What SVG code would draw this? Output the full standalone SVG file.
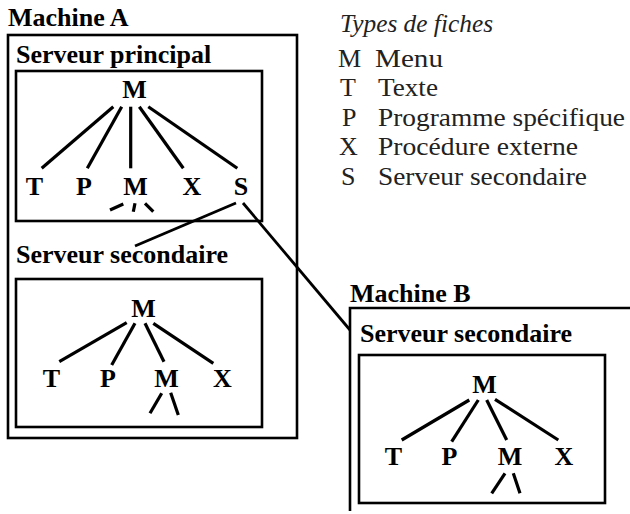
<svg xmlns="http://www.w3.org/2000/svg" width="630" height="514" viewBox="0 0 630 514">
<style>
.box{fill:none;stroke:#000;stroke-width:2.6}
.lbl{font-family:"Liberation Serif","Times New Roman",serif;font-weight:bold;font-size:26px;fill:#000}
.n{font-family:"Liberation Serif","Times New Roman",serif;font-weight:bold;font-size:26px;fill:#000;text-anchor:middle}
.leg{font-family:"Liberation Serif","Times New Roman",serif;font-size:26px;fill:#222}
.legt{font-family:"Liberation Serif","Times New Roman",serif;font-style:italic;font-size:26px;fill:#222}
.e{stroke:#000;stroke-width:3.2;stroke-linecap:butt;fill:none}
.c{stroke:#000;stroke-width:2.8;fill:none}
</style>
<rect width="630" height="514" fill="#fff"/>

<g id="machineA">
  <text class="lbl" x="8" y="26">Machine A</text>
  <rect class="box" x="8" y="35" width="289" height="403"/>
</g>
<g id="serveurPrincipal">
  <text class="lbl" x="16" y="63">Serveur principal</text>
  <rect class="box" x="16" y="71" width="246" height="150"/>
</g>
<g id="serveurSecondaireA">
  <text class="lbl" x="16" y="263">Serveur secondaire</text>
  <rect class="box" x="16" y="279" width="246" height="148"/>
</g>
<g id="machineB">
  <text class="lbl" x="350" y="302">Machine B</text>
  <path class="box" d="M350,511 V308 H632"/>
</g>
<g id="serveurSecondaireB">
  <text class="lbl" x="360" y="342">Serveur secondaire</text>
  <rect class="box" x="359" y="355" width="246" height="148"/>
</g>

<!-- tree 1 nodes -->
<g id="p-M"><text class="n" x="134.5" y="98">M</text></g>
<g id="p-T"><text class="n" x="34.5" y="195">T</text></g>
<g id="p-P"><text class="n" x="84" y="195">P</text></g>
<g id="p-M2"><text class="n" x="135.5" y="195">M</text></g>
<g id="p-X"><text class="n" x="192" y="195">X</text></g>
<g id="p-S"><text class="n" x="241" y="195">S</text></g>

<!-- tree 2 nodes -->
<g id="sa-M"><text class="n" x="143.5" y="317">M</text></g>
<g id="sa-T"><text class="n" x="51.5" y="387">T</text></g>
<g id="sa-P"><text class="n" x="108" y="387">P</text></g>
<g id="sa-M2"><text class="n" x="166.5" y="387">M</text></g>
<g id="sa-X"><text class="n" x="222.5" y="387">X</text></g>

<!-- tree B nodes -->
<g id="sb-M"><text class="n" x="484.5" y="393">M</text></g>
<g id="sb-T"><text class="n" x="393.5" y="465">T</text></g>
<g id="sb-P"><text class="n" x="449.5" y="465">P</text></g>
<g id="sb-M2"><text class="n" x="510" y="465">M</text></g>
<g id="sb-X"><text class="n" x="564" y="465">X</text></g>

<g id="connectors">
  <line class="e" x1="113.3" y1="106.7" x2="41.7" y2="168.3"/>
  <line class="e" x1="121.7" y1="106.7" x2="87.3" y2="168.3"/>
  <line class="e" x1="130.7" y1="106.7" x2="130.7" y2="168.3"/>
  <line class="e" x1="139.3" y1="106.7" x2="183.3" y2="168.3"/>
  <line class="e" x1="148.3" y1="106.7" x2="237.3" y2="168.3"/>
  <line class="e" x1="110" y1="210" x2="123.3" y2="204"/>
  <line class="e" x1="135" y1="203.3" x2="133.3" y2="211.7"/>
  <line class="e" x1="145" y1="203.3" x2="153.3" y2="211.7"/>

  <line class="e" x1="126.7" y1="322.7" x2="59.3" y2="361.7"/>
  <line class="e" x1="135" y1="323.3" x2="111.7" y2="365"/>
  <line class="e" x1="145" y1="323.3" x2="164" y2="361.7"/>
  <line class="e" x1="153.3" y1="323.3" x2="213.3" y2="363.3"/>
  <line class="e" x1="150" y1="413.3" x2="161.7" y2="393.3"/>
  <line class="e" x1="170.7" y1="392.7" x2="178.3" y2="415"/>

  <line class="e" x1="469.3" y1="400" x2="401.7" y2="440"/>
  <line class="e" x1="478.3" y1="400" x2="451.7" y2="441.7"/>
  <line class="e" x1="486.7" y1="400" x2="506.7" y2="440"/>
  <line class="e" x1="495" y1="399.3" x2="558.3" y2="440"/>
  <line class="e" x1="491.7" y1="493.3" x2="505" y2="473.3"/>
  <line class="e" x1="513.3" y1="473.3" x2="520" y2="493.3"/>

  <line class="c" x1="236" y1="203" x2="135" y2="246"/>
  <line class="c" x1="243" y1="203" x2="350" y2="330"/>
</g>

<g id="legend">
  <text class="legt" x="340" y="32" textLength="153" lengthAdjust="spacingAndGlyphs">Types de fiches</text>
  <text class="leg" x="338" y="67">M</text><text class="leg" x="375" y="67" textLength="68" lengthAdjust="spacingAndGlyphs">Menu</text>
  <text class="leg" x="340" y="96">T</text><text class="leg" x="378" y="96" textLength="60" lengthAdjust="spacingAndGlyphs">Texte</text>
  <text class="leg" x="342" y="126">P</text><text class="leg" x="378" y="126" textLength="247" lengthAdjust="spacingAndGlyphs">Programme spécifique</text>
  <text class="leg" x="339" y="155">X</text><text class="leg" x="378" y="155" textLength="200" lengthAdjust="spacingAndGlyphs">Procédure externe</text>
  <text class="leg" x="341" y="185">S</text><text class="leg" x="378" y="185" textLength="209" lengthAdjust="spacingAndGlyphs">Serveur secondaire</text>
</g>
</svg>
